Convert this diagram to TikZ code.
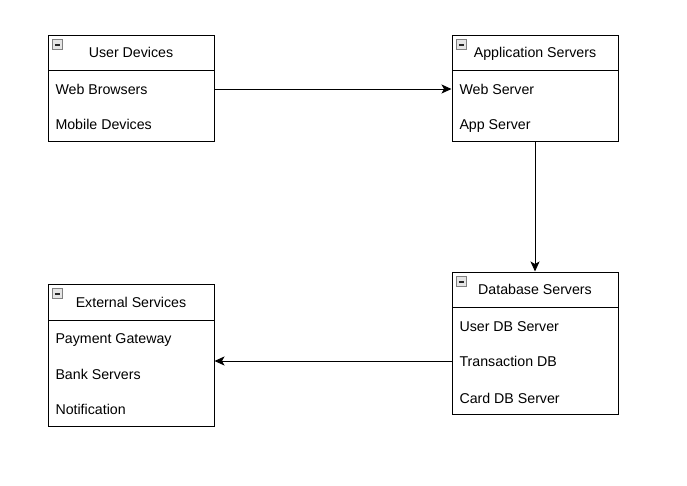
\documentclass[tikz,border=0pt]{standalone}
\usepackage{fontspec}
\setmainfont{Liberation Sans}
\usetikzlibrary{arrows.meta}
\begin{document}
\begin{tikzpicture}[x=1pt,y=-1pt,line width=1pt,font=\fontsize{14.2}{16}\selectfont,
	arrows={-Stealth[length=10pt,width=9pt,inset=2.5pt]},
	box/.style={draw,minimum width=166pt,inner sep=0pt,text height=10pt,text depth=0pt},
	item/.style={anchor=west,inner sep=0pt,text height=10pt,text depth=0pt},
	icon/.style={draw=gray,fill=gray!20,line width=0.8pt,minimum size=9.5pt,inner sep=0pt,
		path picture={\draw[-,line width=2pt,black!85] ([xshift=2pt]path picture bounding box.west) -- ([xshift=-2pt]path picture bounding box.east);}}]
	\useasboundingbox (0,0) rectangle (687,485);
	\node[box,minimum height=35pt] (UD) at (131,52.5) {User Devices};
	\node[box,minimum height=71pt] (UDb) at (131,105.5) {};
	\node[icon] (UDi) at (57.5,44.5) {};
	\node[item] (WB) at (55,89) {Web Browsers};
	\node[item] (MD) at (55,124) {Mobile Devices};
	\node[box,minimum height=35pt] (AS) at (535,52.5) {Application Servers};
	\node[box,minimum height=71pt] (ASb) at (535,105.5) {};
	\node[icon] (ASi) at (461.5,44.5) {};
	\node[item] (WS) at (459,89) {Web Server};
	\node[item] (AP) at (459,124) {App Server};
	\node[box,minimum height=35pt] (DB) at (535,289.5) {Database Servers};
	\node[box,minimum height=107pt] (DBb) at (535,360.5) {};
	\node[icon] (DBi) at (461.5,281.5) {};
	\node[item] (UDB) at (459,326) {User DB Server};
	\node[item] (TD) at (459,361) {Transaction DB};
	\node[item] (CD) at (459,398) {Card DB Server};
	\node[box,minimum height=36pt] (ES) at (131,302) {External Services};
	\node[box,minimum height=106pt] (ESb) at (131,373) {};
	\node[icon] (ESi) at (57.5,293.5) {};
	\node[item] (PG) at (55,338) {Payment Gateway};
	\node[item] (BS) at (55,374) {Bank Servers};
	\node[item] (NT) at (55,409) {Notification};
	\draw (UDb.east |- WB) -- (ASb.west |- WB);
	\draw (ASb.south) -- (DB.north);
	\draw (DBb.west |- TD) -- (ESb.east |- TD);
\end{tikzpicture}
\end{document}
